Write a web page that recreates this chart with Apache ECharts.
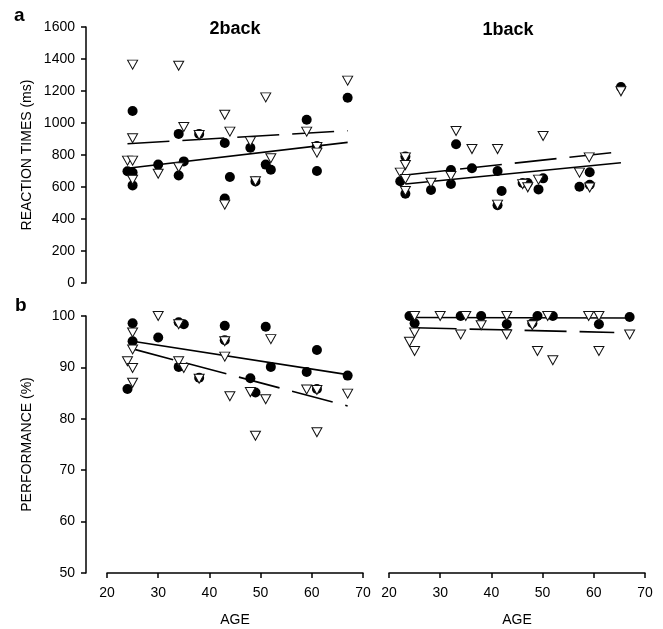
<!DOCTYPE html>
<html>
<head>
<meta charset="utf-8">
<script src="https://cdn.jsdelivr.net/npm/echarts@6/dist/echarts.min.js"></script>
<style>
  html, body { margin: 0; padding: 0; background: #fff; }
  #chart { width: 663px; height: 629px; }
</style>
</head>
<body>
<div id="chart"></div>
<script>
// age / value pairs
var rt2Circles = [[25,1075],[24,698],[25,690],[25,610],[30,740],[34,932],[34,672],[35,760],[38,932],
  [43,875],[44,662],[43,528],[48,845],[49,635],[51,740],[52,708],[59,1020],[61,856],[61,700],[67,1158]];
var rt2Triangles = [[25,1365],[34,1358],[51,1160],[43,1052],[35,975],[25,905],[38,925],[44,946],[48,885],
  [59,946],[24,765],[25,765],[30,683],[34,723],[52,780],[61,850],[61,815],[25,645],[43,490],[49,636],[67,1265]];
var rt2Fit = [[24,717],[67,879]];
var rt2FitDash = [[24,870],[67,952]];

var rt1Circles = [[22.2,636],[23.2,790],[23.2,558],[28.2,581],[33.1,867],[32.1,706],[32.1,619],[36.2,717],
  [41.2,700],[42,575],[41.2,486],[46.1,625],[47.1,625],[50.1,654],[49.2,585],[57.2,602],[59.2,692],[59.2,614],[65.3,1225]];
var rt1Triangles = [[23.2,785],[23.2,737],[22.2,690],[23.2,650],[23.2,575],[28.2,627],[33.1,950],[32.1,669],
  [36.2,837],[41.2,837],[41.2,490],[46.1,618],[47.1,598],[50.1,919],[49.2,646],[59.1,785],[57.2,690],[59.2,597],[65.3,1198]];
var rt1Fit = [[23.2,619],[65.3,752]];
var rt1FitDash = [[23.2,675],[65.3,821]];

var pc2Circles = [[25,98.6],[25,95.1],[24,85.8],[30,95.8],[34,98.8],[35,98.4],[34,90.1],[43,98.1],[38,88],
  [43,95.3],[51,97.9],[61,93.4],[52,90.1],[59,89.1],[67,88.4],[48,87.9],[49,85.1],[61,85.8]];
var pc2Triangles = [[30,100],[25,96.8],[25,93.5],[24,91.2],[25,89.9],[25,87],[34,91.2],[35,89.9],[34,98.4],
  [38,87.8],[43,95.1],[43,92.1],[44,84.4],[52,95.5],[48,85.2],[51,83.8],[59,85.7],[61,85.6],[67,84.9],[49,76.7],[61,77.4]];
var pc2Fit = [[25,95.1],[67,88.6]];
var pc2FitDash = [[25,93.6],[67,82.5]];

var pc1Circles = [[24,100],[25,98.6],[34,100],[38,100],[43,98.4],[49,100],[52,100],[61,98.4],[67,99.8],[48,98.6]];
var pc1Triangles = [[25,100],[30,100],[35,100],[43,100],[51,100],[59,100],[61,100],[38,98.2],[48,98.2],
  [25,96.8],[24,95],[25,93.2],[34,96.4],[43,96.4],[49,93.2],[52,91.4],[61,93.2],[67,96.4]];
var pc1Fit = [[25,99.7],[67,99.6]];
var pc1FitDash = [[25,97.7],[64,96.8]];

var rtTicks = { min: 0, max: 1600, interval: 200 };
var pcTicks = { min: 50, max: 100, interval: 10 };
var ageTicks = { min: 20, max: 70, interval: 10 };

var FONT = "'Liberation Sans', Arial, sans-serif";
var chart = echarts.init(document.getElementById('chart'));

function yAx(idx, t, name, show) {
  return {
    gridIndex: idx, type: 'value', min: t.min, max: t.max, interval: t.interval,
    show: show, offset: 21,
    name: name, nameLocation: 'middle', nameGap: 52,
    nameTextStyle: { fontFamily: FONT, fontSize: 14, color: '#000' },
    axisLine: { show: true, lineStyle: { color: '#000', width: 1.5 } },
    axisTick: { show: true, length: 5, lineStyle: { color: '#000', width: 1.5 } },
    axisLabel: { fontFamily: FONT, fontSize: 14, color: '#000', margin: 11,
      formatter: function (v) { return String(v); } },
    splitLine: { show: false }
  };
}
function xAx(idx, show) {
  return {
    gridIndex: idx, type: 'value', min: ageTicks.min, max: ageTicks.max, interval: ageTicks.interval,
    show: show, name: 'AGE', nameLocation: 'middle', nameGap: 40,
    nameTextStyle: { fontFamily: FONT, fontSize: 14, color: '#000' },
    axisLine: { show: true, onZero: false, lineStyle: { color: '#000', width: 1.5 } },
    axisTick: { show: true, length: 5, lineStyle: { color: '#000', width: 1.5 } },
    axisLabel: { fontFamily: FONT, fontSize: 14, color: '#000', margin: 13 },
    splitLine: { show: false }
  };
}
function circles(idx, data) {
  return { type: 'scatter', xAxisIndex: idx, yAxisIndex: idx, data: data, symbol: 'circle', symbolSize: 10,
    itemStyle: { color: '#000', opacity: 1 }, z: 3 };
}
function triangles(idx, data) {
  return { type: 'scatter', xAxisIndex: idx, yAxisIndex: idx, data: data, symbol: 'triangle',
    symbolSize: [10, 9], symbolRotate: 180,
    itemStyle: { color: '#fff', borderColor: '#111', borderWidth: 1, opacity: 1 }, z: 4 };
}
function fit(idx, data, dashed) {
  return { type: 'line', xAxisIndex: idx, yAxisIndex: idx, data: data, symbol: 'none', silent: true,
    lineStyle: { color: '#000', width: 1.6, type: dashed ? [42, 13] : 'solid' }, z: 2 };
}

chart.setOption({
  animation: false,
  grid: [
    { left: 107, top: 27, width: 256, height: 256 },
    { left: 389, top: 27, width: 256, height: 256 },
    { left: 107, top: 316, width: 256, height: 257 },
    { left: 389, top: 316, width: 256, height: 257 }
  ],
  xAxis: [xAx(0, false), xAx(1, false), xAx(2, true), xAx(3, true)],
  yAxis: [
    yAx(0, rtTicks, 'REACTION TIMES (ms)', true),
    yAx(1, rtTicks, '', false),
    yAx(2, pcTicks, 'PERFORMANCE (%)', true),
    yAx(3, pcTicks, '', false)
  ],
  graphic: [
    { type: 'text', left: 14, top: 6, style: { text: 'a', font: 'bold 19px ' + FONT, fill: '#000' } },
    { type: 'text', left: 15, top: 296, style: { text: 'b', font: 'bold 19px ' + FONT, fill: '#000' } },
    { type: 'text', x: 235, y: 29, style: { text: '2back', font: 'bold 18px ' + FONT, fill: '#000', align: 'center', verticalAlign: 'middle' } },
    { type: 'text', x: 508, y: 30, style: { text: '1back', font: 'bold 18px ' + FONT, fill: '#000', align: 'center', verticalAlign: 'middle' } }
  ],
  series: [
    fit(0, rt2Fit, false), fit(0, rt2FitDash, true), circles(0, rt2Circles), triangles(0, rt2Triangles),
    fit(1, rt1Fit, false), fit(1, rt1FitDash, true), circles(1, rt1Circles), triangles(1, rt1Triangles),
    fit(2, pc2Fit, false), fit(2, pc2FitDash, true), circles(2, pc2Circles), triangles(2, pc2Triangles),
    fit(3, pc1Fit, false), fit(3, pc1FitDash, true), circles(3, pc1Circles), triangles(3, pc1Triangles)
  ]
});
</script>
</body>
</html>
